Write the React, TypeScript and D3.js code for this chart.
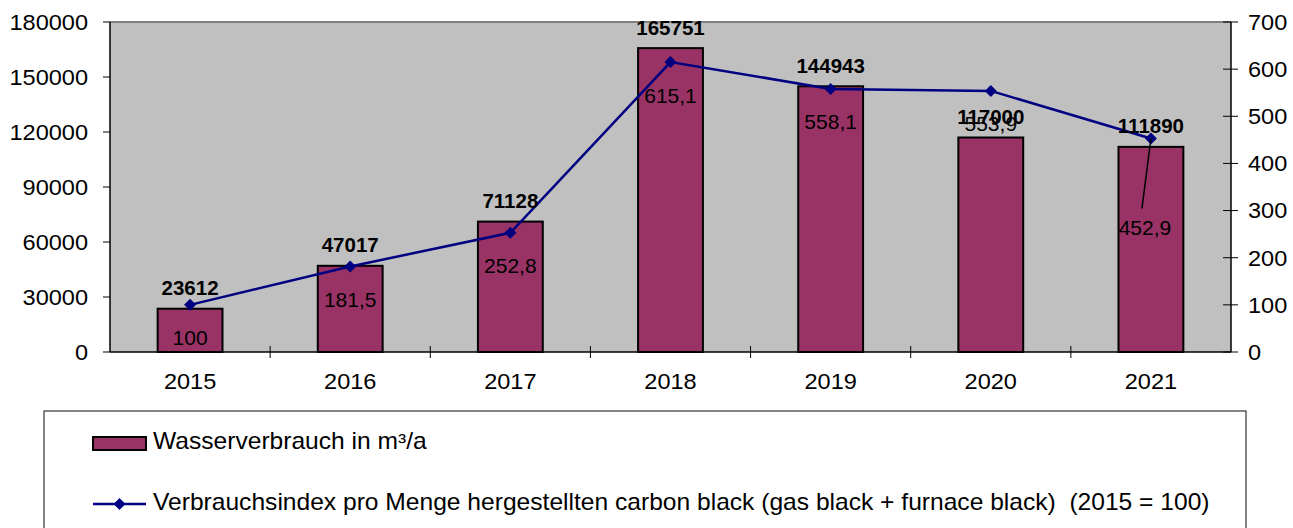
import React from "react";
import * as d3 from "d3";

const years = ["2015", "2016", "2017", "2018", "2019", "2020", "2021"];
const waterUse = [23612, 47017, 71128, 165751, 144943, 117000, 111890];
const indexValues = [100, 181.5, 252.8, 615.1, 558.1, 553.9, 452.9];
const leftTicks = [0, 30000, 60000, 90000, 120000, 150000, 180000];
const rightTicks = [0, 100, 200, 300, 400, 500, 600, 700];
const legendBar = "Wasserverbrauch in m³/a";
const legendLine = "Verbrauchsindex pro Menge hergestellten carbon black (gas black + furnace black)  (2015 = 100)";

const W = 1293, H = 528;
const L = 110, R = 1231, T = 22, B = 352;
const FONT = "'Liberation Sans', Arial, sans-serif";
const BAR = "#993366";
const LINE = "#000080";
const SX = 1.07;

function Txt(props: { x: number; y: number; anchor?: string; size: number; bold?: boolean; sx?: number; children: any }) {
  const { x, y, anchor = "start", size, bold, sx = SX, children } = props;
  return (
    <text transform={`translate(${x},${y}) scale(${sx},1)`} dy="0.36em" textAnchor={anchor}
      fontSize={size} fontWeight={bold ? "bold" : "normal"} style={{ whiteSpace: "pre" }}>{children}</text>
  );
}

export default function App() {
  const x = d3.scaleBand().domain(years).range([L, R]).padding(0);
  const yL = d3.scaleLinear().domain([0, 180000]).range([B, T]);
  const yR = d3.scaleLinear().domain([0, 700]).range([B, T]);
  const bw = x.bandwidth() * 0.405;
  const cx = (d: string) => (x(d) as number) + x.bandwidth() / 2;
  const linePath = d3.line<number>().x((_, i) => cx(years[i])).y((v) => yR(v))(indexValues) as string;
  const diamond = (px: number, py: number, s = 6) =>
    `M${px},${py - s}L${px + s},${py}L${px},${py + s}L${px - s},${py}Z`;
  const fmt = (v: number) => String(v).replace(".", ",");
  const last = years.length - 1;

  return (
    <svg width={W} height={H} style={{ position: "absolute", left: 0, top: 0, background: "#fff" }} fontFamily={FONT}>
      <rect x={L} y={T} width={R - L} height={B - T} fill="#C0C0C0" />
      <line x1={L} x2={R} y1={T} y2={T} stroke="#808080" strokeWidth={2} />
      {years.map((yr, i) => (
        <rect key={yr} x={cx(yr) - bw / 2} y={yL(waterUse[i])} width={bw} height={B - yL(waterUse[i])}
          fill={BAR} stroke="#000" strokeWidth={2} />
      ))}
      <line x1={L} x2={L} y1={T} y2={B} stroke="#000" strokeWidth={1.5} />
      <line x1={R} x2={R} y1={T} y2={B} stroke="#000" strokeWidth={1.5} />
      <line x1={L} x2={R} y1={B} y2={B} stroke="#000" strokeWidth={1.5} />
      {leftTicks.map((t) => (
        <g key={t}>
          <line x1={L - 7} x2={L} y1={yL(t)} y2={yL(t)} stroke="#000" />
          <Txt x={88} y={yL(t)} anchor="end" size={22}>{t}</Txt>
        </g>
      ))}
      {rightTicks.map((t) => (
        <g key={t}>
          <line x1={R - 8} x2={R + 7} y1={yR(t)} y2={yR(t)} stroke="#000" />
          <Txt x={1248} y={yR(t)} size={22}>{t}</Txt>
        </g>
      ))}
      {years.slice(1).map((yr) => (
        <line key={"bt" + yr} x1={x(yr) as number} x2={x(yr) as number} y1={B - 6} y2={B + 6} stroke="#000" />
      ))}
      {years.map((yr) => (
        <Txt key={"xl" + yr} x={cx(yr)} y={381} anchor="middle" size={22}>{yr}</Txt>
      ))}
      <path d={linePath} fill="none" stroke={LINE} strokeWidth={2.5} />
      {indexValues.map((v, i) => (
        <path key={"m" + i} d={diamond(cx(years[i]), yR(v))} fill={LINE} />
      ))}
      {years.map((yr, i) => (
        <Txt key={"bl" + yr} x={cx(yr)} y={yL(waterUse[i]) - 21} anchor="middle" size={20.5} bold sx={1}>{waterUse[i]}</Txt>
      ))}
      {indexValues.map((v, i) => {
        const px = cx(years[i]);
        const py = yR(v);
        if (i === last) {
          return (
            <g key={"ll" + i}>
              <line x1={px} y1={py} x2={px - 9} y2={py + 70} stroke="#000" strokeWidth={1.5} />
              <Txt x={px - 6} y={py + 89} anchor="middle" size={21} sx={1}>{fmt(v)}</Txt>
            </g>
          );
        }
        return <Txt key={"ll" + i} x={px} y={py + 33} anchor="middle" size={21} sx={1}>{fmt(v)}</Txt>;
      })}
      <rect x={44} y={411} width={1202} height={130} fill="#fff" stroke="#333" strokeWidth={1.2} />
      <rect x={93} y={437} width={53} height={13} fill={BAR} stroke="#000" strokeWidth={2} />
      <Txt x={153} y={441} size={23}>{legendBar}</Txt>
      <line x1={93} x2={146} y1={504} y2={504} stroke={LINE} strokeWidth={2.5} />
      <path d={diamond(119.5, 504)} fill={LINE} />
      <Txt x={153} y={502} size={23}>{legendLine}</Txt>
    </svg>
  );
}
